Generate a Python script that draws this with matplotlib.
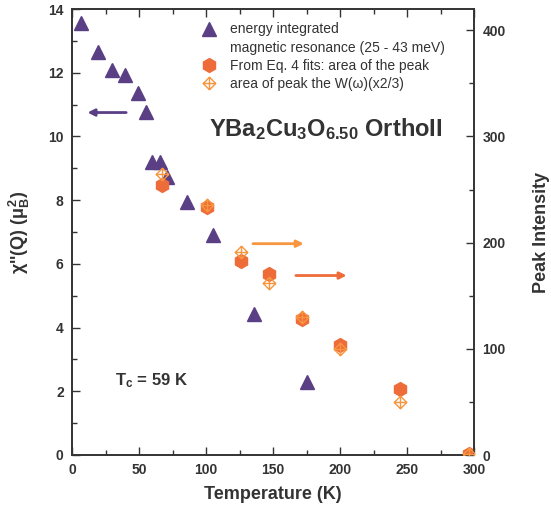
import matplotlib
matplotlib.use('Agg')
from matplotlib import pyplot as plt
from matplotlib.path import Path
from matplotlib.lines import Line2D
from matplotlib.ticker import MultipleLocator

plt.rcParams['font.family'] = ['Liberation Sans', 'DejaVu Sans']
plt.rcParams['mathtext.fontset'] = 'custom'
plt.rcParams['mathtext.rm'] = 'Liberation Sans:bold'
plt.rcParams['mathtext.it'] = 'Liberation Sans:bold'
plt.rcParams['mathtext.bf'] = 'Liberation Sans:bold'

# energy integrated magnetic resonance (left axis)
tri_T = [7, 19.5, 29.5, 39.5, 49.5, 55.5, 60, 65.5, 71, 85.5, 105.5, 136, 175]
tri_chi = [13.55, 12.64, 12.08, 11.94, 11.35, 10.77, 9.19, 9.19, 8.74, 7.95, 6.9, 4.43, 2.3]

# From Eq. 4 fits (right axis)
hex_T = [67.5, 100.5, 126, 147, 172, 200, 245, 296]
hex_I = [254, 234, 183, 170, 128, 104, 62, 1]

# area of peak W(omega) x2/3 (right axis)
dia_T = [67, 100.5, 126, 147, 172, 200, 245, 296]
dia_I = [265, 235, 191, 162, 130, 100, 50, 1]

purple = '#5b3f85'
orange = '#ee6c39'
light_orange = '#f7963f'
dark = '#333333'

dia_cross = Path([(0, 1), (1, 0), (0, -1), (-1, 0), (0, 1),
                  (0, 1), (0, -1), (-1, 0), (1, 0)],
                 [Path.MOVETO, Path.LINETO, Path.LINETO, Path.LINETO, Path.CLOSEPOLY,
                  Path.MOVETO, Path.LINETO, Path.MOVETO, Path.LINETO])

fig = plt.figure(figsize=(5.51, 5.15), dpi=100)
ax = fig.add_axes([72/551, 1 - 455/515, 402/551, 446/515])
ax2 = ax.twinx()

ax.plot(tri_T, tri_chi, ls='none', marker='^', ms=10, color=purple, zorder=3)
ax2.plot(dia_T, dia_I, ls='none', marker=dia_cross, ms=9, mfc='none', mec=light_orange, mew=1.0, zorder=3)
ax2.plot(hex_T, hex_I, ls='none', marker='h', ms=10, color=orange, zorder=2)

ax.set_xlim(0, 300)
ax.set_ylim(0, 14)
ax2.set_ylim(0, 420)

ax.xaxis.set_major_locator(MultipleLocator(50))
ax.xaxis.set_minor_locator(MultipleLocator(25))
ax.yaxis.set_major_locator(MultipleLocator(2))
ax.yaxis.set_minor_locator(MultipleLocator(1))
ax2.yaxis.set_major_locator(MultipleLocator(100))
ax2.yaxis.set_minor_locator(MultipleLocator(50))

for a in (ax, ax2):
    for s in a.spines.values():
        s.set_color(dark)
        s.set_linewidth(1.2)
ax.tick_params(which='both', direction='in', top=True, color=dark, width=1.0,
               labelsize=10, labelcolor=dark, pad=6)
ax.tick_params(which='major', length=6)
ax.tick_params(which='minor', length=3.5)
ax.tick_params(axis='y', which='both', right=False)
ax2.tick_params(which='both', direction='in', color=dark, width=1.0,
                labelsize=10, labelcolor=dark, pad=6)
ax2.tick_params(which='major', length=6)
ax2.tick_params(which='minor', length=3.5)
for lab in ax.get_xticklabels() + ax.get_yticklabels() + ax2.get_yticklabels():
    lab.set_fontweight('bold')

ax.set_xlabel('Temperature (K)', fontsize=13, fontweight='bold', color=dark, labelpad=6)
ax.set_ylabel(r"$\chi$''(Q) ($\mu_B^2$)", fontsize=13, fontweight='bold', color=dark, labelpad=12)
ax2.set_ylabel('Peak Intensity', fontsize=13, fontweight='bold', color=dark, labelpad=20)

ax.text(102, 10.0, r'YBa$_2$Cu$_3$O$_{6.50}$ OrthoII', fontsize=17, fontweight='bold', color=dark)
ax.text(32, 2.2, r'T$_c$ = 59 K', fontsize=12, fontweight='bold', color=dark)

ax.annotate('', xy=(9.5, 10.75), xytext=(42.5, 10.75),
            arrowprops=dict(arrowstyle='-|>', color=purple, lw=2, mutation_scale=10))
ax2.annotate('', xy=(175, 199), xytext=(133, 199),
             arrowprops=dict(arrowstyle='-|>', color=light_orange, lw=2, mutation_scale=10))
ax2.annotate('', xy=(207, 169), xytext=(165, 169),
             arrowprops=dict(arrowstyle='-|>', color=orange, lw=2, mutation_scale=10))

handles = [Line2D([], [], ls='none', marker='^', ms=10, color=purple),
           Line2D([], [], ls='none', marker='none'),
           Line2D([], [], ls='none', marker='h', ms=10, color=orange),
           Line2D([], [], ls='none', marker=dia_cross, ms=9, mfc='none', mec=light_orange, mew=1.0)]
labels = ['energy integrated', 'magnetic resonance (25 - 43 meV)',
          'From Eq. 4 fits: area of the peak', 'area of peak the W(\u03c9)(x2/3)']
ax2.legend(handles, labels, loc='upper left', bbox_to_anchor=(0.285, 0.998), frameon=False,
           fontsize=10, labelspacing=0.3, handletextpad=0.7, handlelength=1.5,
           labelcolor=dark)

fig.savefig('out.png', dpi=100)
